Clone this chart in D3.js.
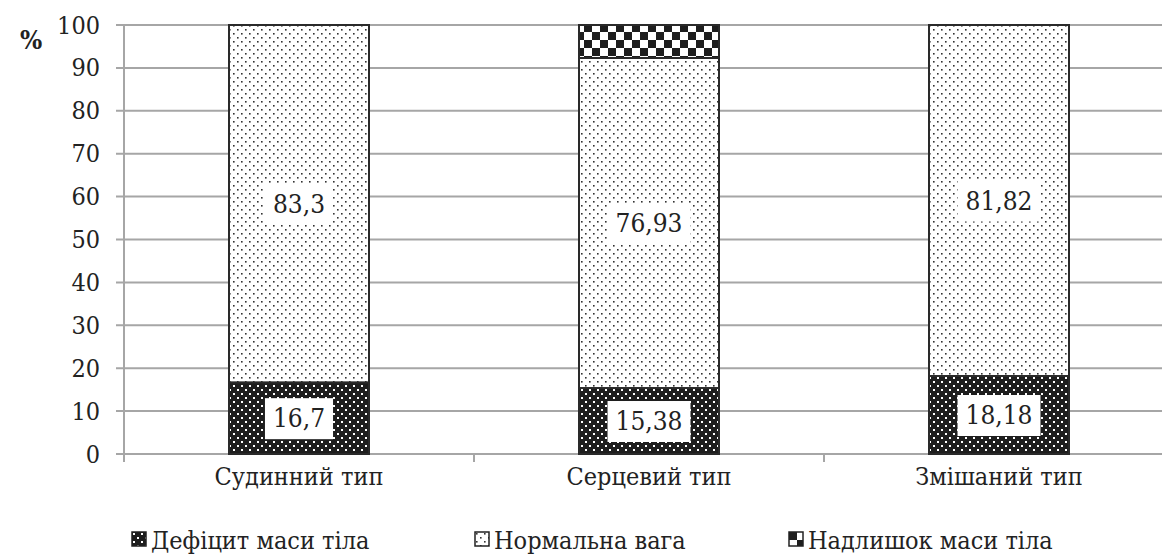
<!DOCTYPE html>
<html>
<head>
<meta charset="utf-8">
<script src="https://cdn.jsdelivr.net/npm/d3@7"></script>
<style>
  body { margin: 0; background: #fff; }
  svg text { font-stretch: condensed; }
</style>
</head>
<body>
<div id="chart"></div>
<script>
// data
var categories = ["Судинний тип", "Серцевий тип", "Змішаний тип"];
var seriesNames = ["Дефіцит маси тіла", "Нормальна вага", "Надлишок маси тіла"];
var deficit = [16.7, 15.38, 18.18];
var normal = [83.3, 76.93, 81.82];
var excess = [0, 7.69, 0];
var valueLabels = [["16,7", "15,38", "18,18"], ["83,3", "76,93", "81,82"], [null, null, null]];
var yTicks = [0, 10, 20, 30, 40, 50, 60, 70, 80, 90, 100];

var w = 1162, h = 557;
var FONT = "DejaVu Serif Condensed, DejaVu Serif";
var FS = 25;

var svg = d3.select("#chart").append("svg")
  .attr("width", w)
  .attr("height", h)
  .attr("font-family", FONT);

var defs = svg.append("defs");

// dotted dark fill
var p1 = defs.append("pattern").attr("id", "pDef")
  .attr("patternUnits", "userSpaceOnUse").attr("width", 8).attr("height", 8);
p1.append("rect").attr("width", 8).attr("height", 8).attr("fill", "#1e1e1e");
p1.append("rect").attr("x", 1).attr("y", 1).attr("width", 2).attr("height", 2).attr("fill", "#fff");
p1.append("rect").attr("x", 5).attr("y", 5).attr("width", 2).attr("height", 2).attr("fill", "#fff");

// sparse dots on white
var p2 = defs.append("pattern").attr("id", "pNorm")
  .attr("patternUnits", "userSpaceOnUse").attr("width", 8).attr("height", 8);
p2.append("rect").attr("width", 8).attr("height", 8).attr("fill", "#fff");
p2.append("rect").attr("x", 1).attr("y", 1).attr("width", 1.6).attr("height", 1.6).attr("fill", "#333");
p2.append("rect").attr("x", 5).attr("y", 5).attr("width", 1.6).attr("height", 1.6).attr("fill", "#333");

// checkerboard
var p3 = defs.append("pattern").attr("id", "pExc")
  .attr("patternUnits", "userSpaceOnUse").attr("width", 16).attr("height", 16);
p3.append("rect").attr("width", 16).attr("height", 16).attr("fill", "#fff");
p3.append("rect").attr("width", 8).attr("height", 8).attr("fill", "#1e1e1e");
p3.append("rect").attr("x", 8).attr("y", 8).attr("width", 8).attr("height", 8).attr("fill", "#1e1e1e");

var fills = ["url(#pDef)", "url(#pNorm)", "url(#pExc)"];

var x = d3.scaleBand().domain(categories).range([124, 1174]).paddingInner(0.6).paddingOuter(0.3);
var y = d3.scaleLinear().domain([0, 100]).range([454, 25]);

// gridlines
svg.append("g").selectAll("line").data(yTicks).enter().append("line")
  .attr("x1", 116).attr("x2", w)
  .attr("y1", function(d) { return y(d); })
  .attr("y2", function(d) { return y(d); })
  .attr("stroke", "#a6a6a6").attr("stroke-width", 2);

// y axis
var yAxis = svg.append("g").attr("transform", "translate(124,0)")
  .call(d3.axisLeft(y).tickValues(yTicks).tickSize(0).tickPadding(24));
yAxis.attr("font-size", FS).attr("font-family", FONT);
yAxis.select(".domain").remove();
yAxis.append("line").attr("x1", 0).attr("x2", 0).attr("y1", 25).attr("y2", 462)
  .attr("stroke", "#a6a6a6").attr("stroke-width", 2);
yAxis.selectAll("text").attr("fill", "#222");

// x axis ticks between categories
var xAxis = svg.append("g").attr("transform", "translate(0,454)");
xAxis.selectAll("line").data([0, 1, 2]).enter().append("line")
  .attr("x1", function(d) { return x(categories[d]) + x.bandwidth() / 2 + x.step() / 2; })
  .attr("x2", function(d) { return x(categories[d]) + x.bandwidth() / 2 + x.step() / 2; })
  .attr("y1", 0).attr("y2", 8)
  .attr("stroke", "#a6a6a6").attr("stroke-width", 2);
xAxis.selectAll("text").data(categories).enter().append("text")
  .attr("x", function(d) { return x(d) + x.bandwidth() / 2; })
  .attr("y", 22)
  .attr("text-anchor", "middle").attr("dominant-baseline", "central")
  .attr("font-size", FS).attr("fill", "#222")
  .text(function(d) { return d; });

svg.append("text").attr("x", 31).attr("y", 40).attr("text-anchor", "middle")
  .attr("dominant-baseline", "central")
  .attr("font-size", FS + 1).attr("font-weight", "bold")
  .attr("fill", "#222").text("%");

// stacked bars
var rows = categories.map(function(c, i) {
  return { cat: c, deficit: deficit[i], normal: normal[i], excess: excess[i] };
});
var stack = d3.stack().keys(["deficit", "normal", "excess"])(rows);

var layers = svg.append("g").selectAll("g").data(stack).enter().append("g")
  .attr("fill", function(d, i) { return fills[i]; });

layers.selectAll("rect").data(function(d) { return d; }).enter()
  .filter(function(d) { return d[1] - d[0] > 0; })
  .append("rect")
  .attr("x", function(d) { return x(d.data.cat); })
  .attr("width", x.bandwidth())
  .attr("y", function(d) { return y(d[1]); })
  .attr("height", function(d) { return y(d[0]) - y(d[1]); })
  .attr("stroke", "#2a2a2a").attr("stroke-width", 2);

// value labels in white boxes
stack.forEach(function(layer, li) {
  layer.forEach(function(d, ci) {
    var lab = valueLabels[li][ci];
    if (!lab) return;
    var cx = x(d.data.cat) + x.bandwidth() / 2;
    var cy = (y(d[0]) + y(d[1])) / 2;
    var g = svg.append("g");
    var t = g.append("text").attr("x", cx).attr("y", cy)
      .attr("text-anchor", "middle").attr("dominant-baseline", "central")
      .attr("font-size", FS + 1).attr("fill", "#222")
      .text(lab);
    var bb = t.node().getBBox();
    g.insert("rect", "text")
      .attr("x", bb.x - 8).attr("y", cy - 20)
      .attr("width", bb.width + 16).attr("height", 41)
      .attr("fill", "#fff");
  });
});

// legend
var legendX = [132, 475, 789];
var legend = svg.append("g").selectAll("g").data(seriesNames).enter().append("g")
  .attr("transform", function(d, i) { return "translate(" + legendX[i] + ",532)"; });
legend.append("rect").attr("width", 14).attr("height", 14)
  .attr("fill", function(d, i) { return fills[i]; })
  .attr("stroke", "#222").attr("stroke-width", 1.5);
legend.append("text").attr("x", 19).attr("y", 8)
  .attr("dominant-baseline", "central")
  .attr("font-size", FS).attr("fill", "#222")
  .text(function(d) { return d; });
</script>
</body>
</html>
